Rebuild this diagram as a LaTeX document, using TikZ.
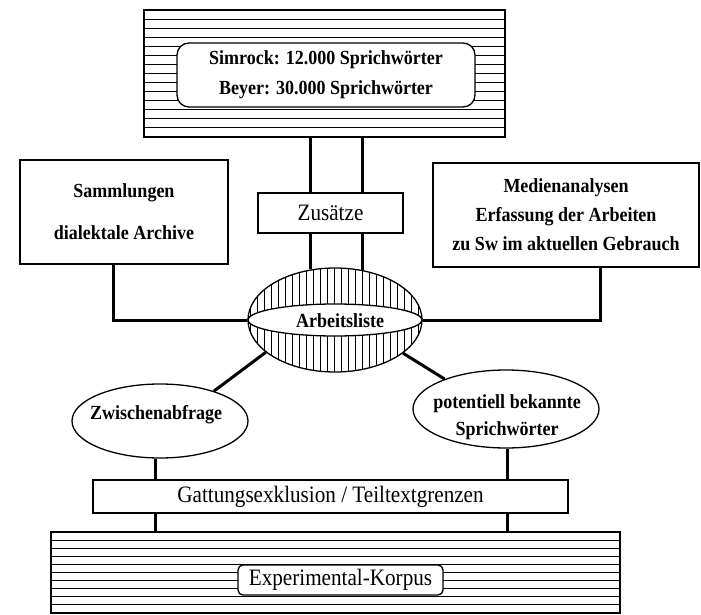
\documentclass[tikz,border=0pt]{standalone}
\usepackage{fontspec}
\setmainfont{Liberation Serif}
\newfontfamily\condserif[FakeStretch=0.9]{Liberation Serif}
\usetikzlibrary{shapes.geometric}
\begin{document}
\begin{tikzpicture}[x=1pt,y=-1pt,
  box/.style={draw, line width=1.3pt, fill=white, inner sep=0pt, align=center},
  oval/.style={ellipse, draw, line width=1.3pt, fill=white, inner sep=0pt},
  conn/.style={line width=3pt},
  stripe/.style={line width=1.1pt},
  hatch/.style={line width=1pt},
  bftext/.style={font=\condserif\fontsize{20}{30}\selectfont\bfseries, align=center, inner sep=0pt},
  rmtext/.style={font=\condserif\fontsize{23.5}{26}\selectfont}]
\useasboundingbox (0,0) rectangle (701,615);

% ---------- top striped box ----------
\foreach \k in {0,...,14} \draw[stripe] (144,{10+9.07*\k}) -- (505,{10+9.07*\k});
\node[box, fill=none, minimum width=361pt, minimum height=127pt] (T) at (324.5,73.5) {};
\node[box, rounded corners=12pt, minimum width=298pt, minimum height=64pt, bftext] (I) at (326,75)
  {Simrock: 12.000 Sprichwörter\\Beyer: 30.000 Sprichwörter};

% ---------- middle boxes ----------
\node[box, minimum width=208pt, minimum height=104pt, bftext] (S) at (124,212)
  {Sammlungen\\[12pt]dialektale Archive};
\node[box, minimum width=266pt, minimum height=104pt, bftext, font=\condserif\fontsize{20}{29}\selectfont\bfseries] (M) at (566,215)
  {Medienanalysen\\Erfassung der Arbeiten\\zu Sw im aktuellen Gebrauch};
\node[box, minimum width=145pt, minimum height=40pt, rmtext] (Zu) at (330.5,213) {Zusätze};

% ---------- Arbeitsliste ----------
\begin{scope}
  \clip (335,320) ellipse [x radius=87pt, y radius=52pt];
  \foreach \k in {0,...,25} \draw[hatch] ({250+7*\k},260) -- ({250+7*\k},380);
\end{scope}
\draw[line width=1.3pt, fill=white] (335,320) ellipse [x radius=87pt, y radius=16pt];
\node[oval, fill=none, minimum width=174pt, minimum height=104pt] (A) at (335,320) {};
\node[bftext] (Atext) at (340,321) {Arbeitsliste};

% ---------- lower ellipses ----------
\node[oval, minimum width=176pt, minimum height=74pt] (Zw) at (160,421) {};
\node[bftext] (Zwtext) at (156,415) {Zwischenabfrage};
\node[oval, minimum width=186pt, minimum height=78pt] (P) at (506,409) {};
\node[bftext, font=\condserif\fontsize{20}{27}\selectfont\bfseries] (Ptext) at (507,417) {potentiell bekannte\\Sprichwörter};

% ---------- Gattungsexklusion ----------
\node[box, minimum width=475pt, minimum height=33pt, rmtext] (G) at (330.5,496.5) {Gattungsexklusion / Teiltextgrenzen};

% ---------- bottom striped box ----------
\foreach \k in {0,...,10} \draw[stripe] (51,{532+8.1*\k}) -- (620,{532+8.1*\k});
\node[box, fill=none, minimum width=569pt, minimum height=81pt] (B) at (335.5,572.5) {};
\node[box, rounded corners=5pt, minimum width=205pt, minimum height=30pt, rmtext] (E) at (340.5,580) {Experimental-Korpus};

% ---------- connectors ----------
\coordinate (xL) at (310,0);
\coordinate (xR) at (362,0);
\coordinate (xS) at (113,0);
\coordinate (xM) at (600,0);
\coordinate (xZ) at (155,0);
\coordinate (xP) at (507,0);
\draw[conn] (T.south -| xL) -- (Zu.north -| xL);
\draw[conn] (T.south -| xR) -- (Zu.north -| xR);
\draw[conn] (Zu.south -| xL) -- (xL |- A.116.7);
\draw[conn] (Zu.south -| xR) -- (xR |- A.61.3);
\draw[conn] (S.south -| xS) |- (A.west);
\draw[conn] (M.south -| xM) |- (A.east);
\draw[conn] (A.205.5) -- (Zw.29.6);
\draw[conn] (A.-26) -- (P.154);
\draw[conn] (Zw.south -| xZ) -- (G.north -| xZ);
\draw[conn] (P.south -| xP) -- (G.north -| xP);
\draw[conn] (G.south -| xZ) -- (B.north -| xZ);
\draw[conn] (G.south -| xP) -- (B.north -| xP);
\end{tikzpicture}
\end{document}
